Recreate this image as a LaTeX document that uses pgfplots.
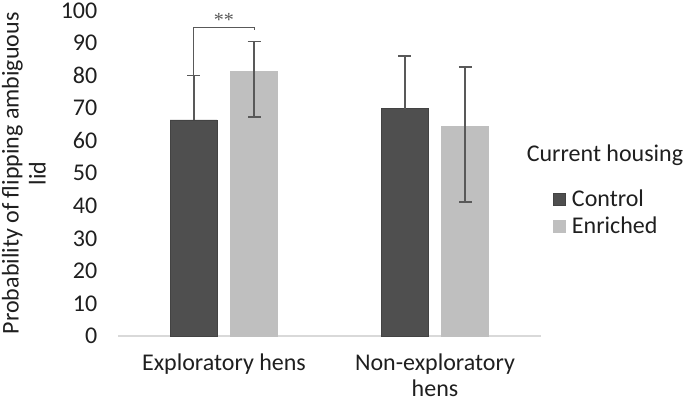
\documentclass[border=0pt]{standalone}
\usepackage{fontspec}
\setmainfont{Carlito}
\newfontfamily\starfont{Liberation Serif}
\usepackage{pgfplots}
\pgfplotsset{compat=1.18}
\definecolor{ctrl}{HTML}{4F4F4F}
\definecolor{enr}{HTML}{BFBFBF}
\definecolor{errc}{HTML}{595959}
\definecolor{axc}{HTML}{D9D9D9}
\definecolor{txt}{HTML}{1F1F1F}

\begin{document}
\begin{tikzpicture}
\useasboundingbox (-118.5pt,-68pt) rectangle (566.5pt,336pt);
\begin{axis}[
  scale only axis, width=422pt, height=325.5pt,
  anchor=south west, at={(0pt,0pt)},
  ybar=13.5pt, bar width=47pt,
  xmin=-0.5, xmax=1.5, ymin=0, ymax=100,
  xtick=data, xticklabels={Exploratory hens, {Non-exploratory\\hens}},
  ytick={0,10,...,100},
  axis x line*=bottom, axis y line*=left,
  x axis line style={axc, line width=1.2pt, -},
  y axis line style={draw=none},
  tick style={draw=none}, major tick length=0pt,
  /pgf/number format/assume math mode=true,
  ticklabel style={font=\fontsize{24}{28}\selectfont\color{txt}},
  yticklabel style={anchor=east, inner sep=0pt, xshift=-21pt},
  xticklabel style={anchor=north, inner sep=0pt, yshift=-18pt, align=center,
    font=\fontsize{24}{25.5}\selectfont\color{txt}},
  ylabel={Probability of flipping ambiguous\\lid},
  ylabel style={at={(axis description cs:-0.224,0.5)}, anchor=center, align=center,
    font=\fontsize{24}{27}\selectfont\color{txt}},
  legend style={draw=none, fill=none, at={(rel axis cs:1.03,0.455)}, anchor=north west,
    font=\fontsize{24}{28}\selectfont\color{txt}, row sep=5pt, inner sep=0pt,
    cells={anchor=west}},
  legend image code/.code={\fill[#1] (0pt,-6pt) rectangle (12pt,6pt);},
  error bars/error bar style={errc, line width=1.8pt},
  error bars/error mark options={errc, line width=1.8pt, rotate=90, mark size=6.5pt},
  clip=false,
]
\addplot[fill=ctrl, draw=ctrl!85!black, line width=0.6pt,
  error bars/.cd, y dir=plus, y explicit]
  coordinates {(0,66.4) +- (0,13.6) (1,69.8) +- (0,16.3)};
\addlegendentry{\hspace{4pt}Control}
\addplot[fill=enr, draw=enr, line width=0.6pt,
  error bars/.cd, y dir=both, y explicit]
  coordinates {(0,81.3) += (0,9.2) -= (0,14.1) (1,64.4) += (0,18.2) -= (0,23.3)};
\addlegendentry{\hspace{4pt}Enriched}
% significance bracket
\draw[errc, line width=1.1pt] ([xshift=-30.25pt]axis cs:0,80) -- ([xshift=-30.25pt]axis cs:0,94.9)
  -- ([xshift=30.25pt]axis cs:0,94.9) -- ([xshift=30.25pt]axis cs:0,94.0);
\node[font=\starfont\fontsize{20}{20}\selectfont, text=errc] at (axis cs:0,97.2) {**};
\node[anchor=center, font=\fontsize{24}{28}\selectfont\color{txt}] at (486.5pt,181pt) {Current housing};
\end{axis}
\end{tikzpicture}
\end{document}
